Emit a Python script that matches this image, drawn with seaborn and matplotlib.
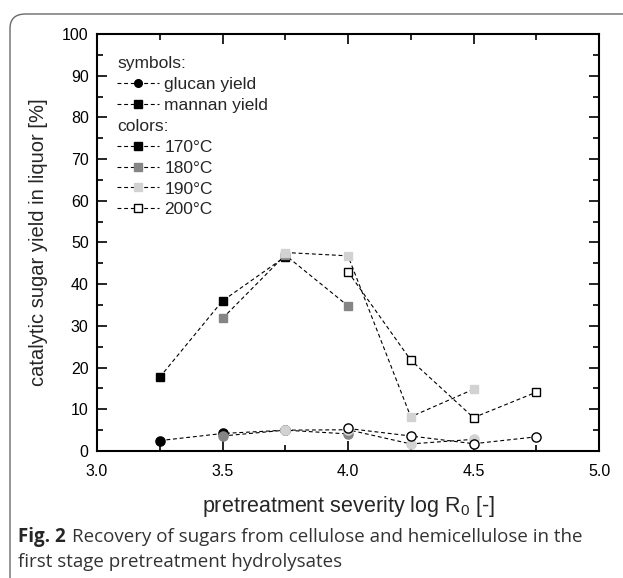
import matplotlib
matplotlib.use("Agg")
import matplotlib.pyplot as plt
import seaborn as sns
import pandas as pd
from matplotlib.lines import Line2D
from matplotlib.patches import FancyBboxPatch
from matplotlib.ticker import MultipleLocator, FormatStrFormatter

# ---------- data ----------
temps = ["170°C", "180°C", "190°C", "200°C"]

sev_170 = [3.25, 3.5, 3.75]
sev_180 = [3.5, 3.75, 4.0]
sev_190 = [3.75, 4.0, 4.25, 4.5]
sev_200 = [4.0, 4.25, 4.5, 4.75]

glucan_170 = [2.5, 4.2, 5.0]
glucan_180 = [3.6, 5.0, 4.1]
glucan_190 = [5.0, 5.1, 1.7, 2.8]
glucan_200 = [5.4, 3.6, 1.75, 3.4]

mannan_170 = [17.7, 36.0, 46.6]
mannan_180 = [31.8, 47.0, 34.8]
mannan_190 = [47.6, 46.8, 8.2, 14.8]
mannan_200 = [43.0, 21.8, 8.0, 14.1]

sev = [sev_170, sev_180, sev_190, sev_200]
glucan = [glucan_170, glucan_180, glucan_190, glucan_200]
mannan = [mannan_170, mannan_180, mannan_190, mannan_200]

rows = []
for t, xs, gs, ms in zip(temps, sev, glucan, mannan):
    for x, g, m in zip(xs, gs, ms):
        rows.append({"temp": t, "severity": x, "sugar": "glucan", "yield": g})
        rows.append({"temp": t, "severity": x, "sugar": "mannan", "yield": m})
df = pd.DataFrame(rows)

# ---------- styling ----------
sns.set_style("ticks")
plt.rcParams["font.family"] = ["Liberation Sans", "DejaVu Sans"]

face = {"170°C": "black", "180°C": "#858585", "190°C": "#d2d2d2", "200°C": "white"}
edge = {"170°C": "black", "180°C": "#858585", "190°C": "#d2d2d2", "200°C": "black"}
markers = {"glucan": "o", "mannan": "s"}
msize = {"glucan": 6.6, "mannan": 6.0}
dash = (0, (3.5, 2.5))

fig = plt.figure(figsize=(6.23, 5.78), dpi=100)
ax = fig.add_axes([0.1557, 0.2197, 0.8058, 0.7215])

for sugar in ["mannan", "glucan"]:
    for t in temps:
        sub = df[(df["sugar"] == sugar) & (df["temp"] == t)]
        sns.lineplot(
            data=sub, x="severity", y="yield", ax=ax,
            color="black", linestyle=dash, linewidth=0.8,
            marker=markers[sugar], markersize=msize[sugar],
            markerfacecolor=face[t], markeredgecolor=edge[t],
            markeredgewidth=1.0, errorbar=None,
        )

ax.set_xlim(3.0, 5.0)
ax.set_ylim(0, 100)
ax.xaxis.set_major_locator(MultipleLocator(0.5))
ax.xaxis.set_minor_locator(MultipleLocator(0.25))
ax.yaxis.set_major_locator(MultipleLocator(10))
ax.yaxis.set_minor_locator(MultipleLocator(5))
ax.xaxis.set_major_formatter(FormatStrFormatter("%.1f"))
ax.tick_params(which="both", direction="in", top=True, right=True,
               width=1.2, colors="black", labelsize=11.5)
ax.tick_params(which="major", length=7, pad=6)
ax.tick_params(axis="x", which="major", pad=9)
ax.tick_params(which="minor", length=4)
for s in ax.spines.values():
    s.set_linewidth(1.5)
    s.set_color("black")

ax.set_xlabel(r"pretreatment severity log R$_\mathregular{0}$ [-]", fontsize=15.5, labelpad=11)
ax.set_ylabel("catalytic sugar yield in liquor [%]", fontsize=14.5, labelpad=10)

# ---------- legend with section headers ----------
blank = Line2D([], [], linestyle="none")
def entry(m, fc, ec):
    return Line2D([], [], color="black", linestyle=dash, linewidth=0.8, marker=m,
                  markersize=5.5, markerfacecolor=fc, markeredgecolor=ec, markeredgewidth=1.0)

handles = [blank,
           entry("o", "black", "black"),
           entry("s", "black", "black"),
           blank]
labels = ["symbols:", "glucan yield", "mannan yield", "colors:"]
for t in temps:
    handles.append(entry("s", face[t], edge[t]))
    labels.append(t)

leg = ax.legend(handles, labels, loc="upper left", frameon=False, fontsize=12.5,
                handlelength=2.4, handletextpad=0.3, labelspacing=0.33,
                borderaxespad=0.2, bbox_to_anchor=(0.02, 0.972))
shift = (2.4 + 0.3) * 12.5 * 100 / 72
for i in (0, 3):
    leg.get_texts()[i].set_position((-shift, 0))

# ---------- caption and frame ----------
box = FancyBboxPatch((10 / 623, -0.05), 1.2, 1 - 14 / 578 + 0.05,
                     boxstyle="round,pad=0,rounding_size=0.025",
                     transform=fig.transFigure, fill=False,
                     edgecolor="#6a6a6a", linewidth=1.0, clip_on=False)
fig.patches.append(box)

cap_font = ["Open Sans", "DejaVu Sans"]
fig.text(18 / 623, 1 - 537 / 578, "Fig. 2", fontsize=13.5, fontweight="bold",
         family=cap_font, va="center", ha="left")
fig.text(72 / 623, 1 - 537 / 578,
         "Recovery of sugars from cellulose and hemicellulose in the",
         fontsize=13.5, family=cap_font, color="#333333",
         va="center", ha="left")
fig.text(18 / 623, 1 - 562 / 578, "first stage pretreatment hydrolysates",
         fontsize=13.5, family=cap_font, color="#333333",
         va="center", ha="left")

fig.savefig("out.png", dpi=100)
